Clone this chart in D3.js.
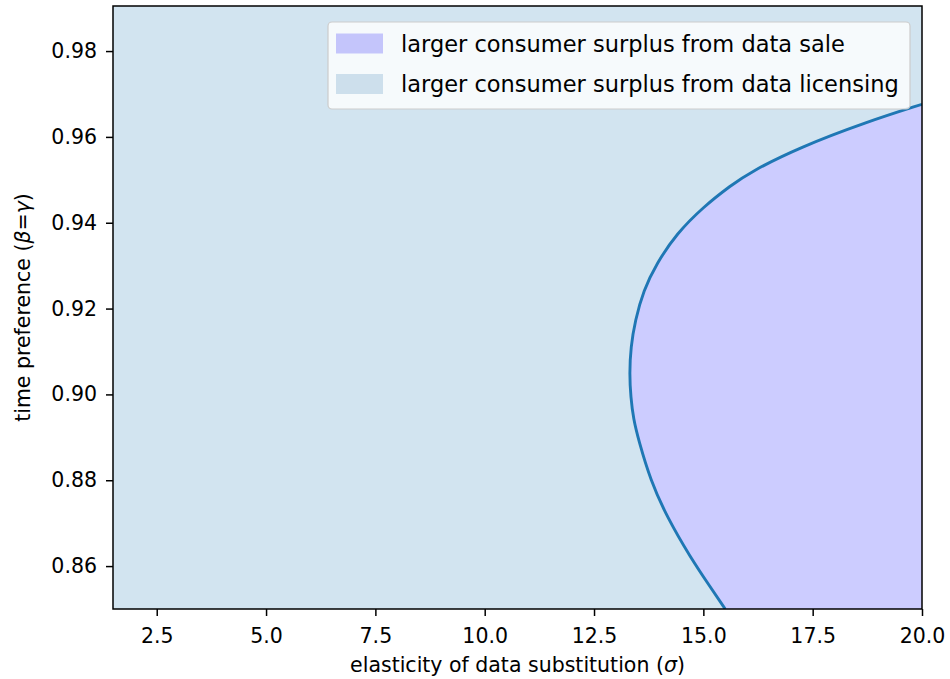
<!DOCTYPE html>
<html>
<head>
<meta charset="utf-8">
<script src="https://cdn.jsdelivr.net/npm/d3@7"></script>
<style>
  body { margin: 0; background: #fff; }
  text { font-family: "DejaVu Sans", sans-serif; }
</style>
</head>
<body>
<script>
// boundary curve, top to bottom
const curveSigma = [20.0, 18.74, 17.21, 16.07, 15.63, 15.00, 14.39, 13.93, 13.63, 13.44, 13.34, 13.31, 13.34, 13.40, 13.52, 13.79, 14.17, 14.70, 15.16, 15.50];
const curveBeta = [0.9676, 0.9635, 0.9576, 0.9518, 0.9487, 0.9437, 0.9375, 0.9305, 0.9242, 0.9172, 0.9110, 0.9048, 0.8994, 0.8943, 0.8893, 0.8800, 0.8714, 0.8621, 0.8551, 0.8500];

const xTicks = [2.5, 5.0, 7.5, 10.0, 12.5, 15.0, 17.5, 20.0];
const yTicks = [0.86, 0.88, 0.90, 0.92, 0.94, 0.96, 0.98];
const legendLabels = ["larger consumer surplus from data sale", "larger consumer surplus from data licensing"];

const svgWidth = 950,
  svgHeight = 679,
  margin = { top: 6, left: 113, right: 28, bottom: 70 },
  width = svgWidth - margin.left - margin.right,
  height = svgHeight - margin.top - margin.bottom;

const fs = 20.5,
  legendFs = 22.5;

const xScale = d3.scaleLinear().domain([1.5, 20]).range([0, width]);
const yScale = d3.scaleLinear().domain([0.85, 0.9905]).range([height, 0]);

const svg = d3.select('body').append('svg')
  .attr('width', svgWidth)
  .attr('height', svgHeight);

svg.append('defs').append('clipPath').attr('id', 'clip')
  .append('rect').attr('width', width).attr('height', height);

const g = svg.append('g')
  .attr('transform', `translate(${margin.left},${margin.top})`);

// licensing region (everything)
g.append('rect')
  .attr('width', width).attr('height', height)
  .attr('fill', '#d2e4f0');

const pts = curveSigma.map((s, i) => [s, curveBeta[i]]);

const line = d3.line()
  .x(d => xScale(d[0]))
  .y(d => yScale(d[1]))
  .curve(d3.curveBasis);

// sale region: right of the curve
const salePath = line(pts) +
  `L${xScale(20)},${yScale(0.85)}L${xScale(20)},${yScale(curveBeta[0])}Z`;

const plot = g.append('g').attr('clip-path', 'url(#clip)');
plot.append('path')
  .attr('d', salePath)
  .attr('fill', '#ccccff');

plot.append('path')
  .attr('d', line(pts))
  .attr('fill', 'none')
  .attr('stroke', '#1f77b4')
  .attr('stroke-width', 2.9);

// axes
const xAxis = g.append('g')
  .attr('transform', `translate(0,${height})`)
  .call(d3.axisBottom(xScale).tickValues(xTicks).tickFormat(d3.format('.1f')).tickSize(7).tickPadding(12.4));

const yAxis = g.append('g')
  .call(d3.axisLeft(yScale).tickValues(yTicks).tickFormat(d3.format('.2f')).tickSize(7).tickPadding(9));

[xAxis, yAxis].forEach(a => {
  a.select('.domain').remove();
  a.selectAll('line').attr('stroke', '#000').attr('stroke-width', 1.5);
  a.selectAll('text').attr('fill', '#000').style('font-size', fs + 'px')
    .style('font-family', '"DejaVu Sans", sans-serif');
});

// frame
g.append('rect')
  .attr('width', width).attr('height', height)
  .attr('fill', 'none')
  .attr('stroke', '#000')
  .attr('stroke-width', 1.5);

// axis labels
const xl = svg.append('text')
  .attr('x', margin.left + width / 2)
  .attr('y', 672)
  .attr('text-anchor', 'middle')
  .style('font-size', fs + 'px');
xl.append('tspan').text('elasticity of data substitution (');
xl.append('tspan').attr('font-style', 'italic').text('σ');
xl.append('tspan').text(')');

const yl = svg.append('text')
  .attr('transform', `translate(30,${margin.top + height / 2}) rotate(-90)`)
  .attr('text-anchor', 'middle')
  .style('font-size', fs + 'px');
yl.append('tspan').text('time preference (');
yl.append('tspan').attr('font-style', 'italic').text('β');
yl.append('tspan').text('=');
yl.append('tspan').attr('font-style', 'italic').text('γ');
yl.append('tspan').text(')');

// legend
const legend = svg.append('g');
legend.append('rect')
  .attr('x', 328).attr('y', 22)
  .attr('width', 582).attr('height', 87)
  .attr('rx', 4)
  .attr('fill', '#fff').attr('fill-opacity', 0.8)
  .attr('stroke', '#cccccc').attr('stroke-width', 1.2);

const legendColors = ['#c4c5fb', '#cddfec'];
legendLabels.forEach((lab, i) => {
  const cy = 43.5 + i * 40.5;
  legend.append('rect')
    .attr('x', 336).attr('y', cy - 10)
    .attr('width', 47).attr('height', 20)
    .attr('fill', legendColors[i]);
  legend.append('text')
    .attr('x', 401).attr('y', cy + 8)
    .style('font-size', legendFs + 'px')
    .text(lab);
});
</script>
</body>
</html>
